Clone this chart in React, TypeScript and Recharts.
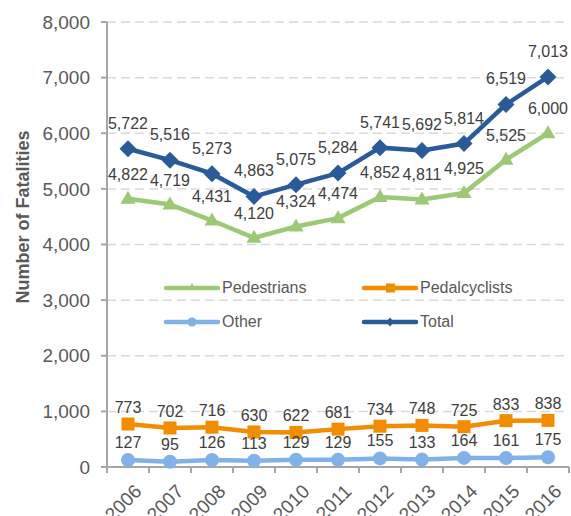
import { CartesianGrid, LabelList, Line, LineChart, XAxis, YAxis } from "recharts";

const years = ["2006", "2007", "2008", "2009", "2010", "2011", "2012", "2013", "2014", "2015", "2016"];
const pedestrians = [4822, 4719, 4431, 4120, 4324, 4474, 4852, 4811, 4925, 5525, 6000];
const pedalcyclists = [773, 702, 716, 630, 622, 681, 734, 748, 725, 833, 838];
const other = [127, 95, 126, 113, 129, 129, 155, 133, 164, 161, 175];
const total = [5722, 5516, 5273, 4863, 5075, 5284, 5741, 5692, 5814, 6519, 7013];
const yTicks = [0, 1000, 2000, 3000, 4000, 5000, 6000, 7000, 8000];

const data = years.map((year, i) => ({
  year,
  pedestrians: pedestrians[i],
  pedalcyclists: pedalcyclists[i],
  other: other[i],
  total: total[i],
}));

const FONT = "'Liberation Sans', Arial, sans-serif";
const GREEN = "#9BC975";
const ORANGE = "#F28C00";
const LIGHT = "#80B1E8";
const NAVY = "#2A5B99";
const AXIS = "#A6A6A6";
const TEXT = "#595959";

const fmt = (v: number) => v.toLocaleString("en-US");

function Diamond(props: any) {
  const { cx, cy } = props;
  if (cx == null) return null;
  const r = 8.5;
  return <polygon points={`${cx},${cy - r} ${cx + r},${cy} ${cx},${cy + r} ${cx - r},${cy}`} fill={NAVY} />;
}
function Square(props: any) {
  const { cx, cy } = props;
  if (cx == null) return null;
  return <rect x={cx - 6.5} y={cy - 6.5} width={13} height={13} fill={ORANGE} />;
}
function Triangle(props: any) {
  const { cx, cy } = props;
  if (cx == null) return null;
  return <polygon points={`${cx},${cy - 8} ${cx + 7.5},${cy + 5} ${cx - 7.5},${cy + 5}`} fill={GREEN} />;
}
function Dot(props: any) {
  const { cx, cy } = props;
  if (cx == null) return null;
  return <circle cx={cx} cy={cy} r={7} fill={LIGHT} />;
}

function YearTick(props: any) {
  const { x, y, payload } = props;
  const half = 21;
  return (
    <g>
      <line x1={x - half} x2={x - half} y1={y - 8} y2={y - 2} stroke={AXIS} strokeWidth={2} />
      {payload.index === years.length - 1 && (
        <line x1={x + half} x2={x + half} y1={y - 8} y2={y - 2} stroke={AXIS} strokeWidth={2} />
      )}
      <text
        transform={`translate(${x + 5},${y + 8}) rotate(-45)`}
        textAnchor="end"
        dominantBaseline="hanging"
        fontSize={19}
        fill={TEXT}
        fontFamily={FONT}
      >
        {payload.value}
      </text>
    </g>
  );
}

const legendItems = [
  { name: "Pedestrians", color: GREEN, shape: "tri" },
  { name: "Pedalcyclists", color: ORANGE, shape: "sq" },
  { name: "Other", color: LIGHT, shape: "circle" },
  { name: "Total", color: NAVY, shape: "dia" },
];

function LegendBox() {
  return (
    <div
      style={{
        position: "absolute",
        left: 163,
        top: 277,
        display: "grid",
        gridTemplateColumns: "198px 200px",
        rowGap: 12,
        fontFamily: FONT,
      }}
    >
      {legendItems.map((it) => (
        <div key={it.name} style={{ display: "flex", alignItems: "center", height: 22 }}>
          <svg width={58} height={14}>
            <line x1={3} x2={55} y1={7} y2={7} stroke={it.color} strokeWidth={4.5} strokeLinecap="round" />
            {it.shape === "tri" && <polygon points="29,2 33,9 25,9" fill={it.color} />}
            {it.shape === "sq" && <rect x={25} y={2.5} width={9} height={9} fill={it.color} />}
            {it.shape === "circle" && <circle cx={29} cy={7} r={4.5} fill={it.color} />}
            {it.shape === "dia" && <polygon points="29,2.5 33,7 29,11.5 25,7" fill={it.color} />}
          </svg>
          <span style={{ fontSize: 16, color: TEXT, marginLeft: 1 }}>{it.name}</span>
        </div>
      ))}
    </div>
  );
}

const labelStyle = { fontSize: 16, fill: "#404040", fontFamily: FONT };

export default function App() {
  return (
    <div style={{ position: "absolute", left: 0, top: 0, width: 571, height: 516, background: "#fff" }}>
      <LineChart width={571} height={516} data={data} margin={{ top: 22, right: 2, bottom: 0, left: 0 }}>
        <CartesianGrid vertical={false} stroke="#D9D9D9" strokeDasharray="9 5" strokeWidth={1.5} />
        <XAxis
          dataKey="year"
          stroke={AXIS}
          strokeWidth={2}
          tickLine={false}
          tick={<YearTick />}
          height={49}
          interval={0}
          padding={{ left: 21, right: 21 }}
        />
        <YAxis
          domain={[0, 8000]}
          ticks={yTicks}
          tickFormatter={fmt}
          width={107}
          stroke={AXIS}
          strokeWidth={2}
          tickSize={6}
          tickMargin={11}
          tick={{ fontSize: 19, fill: TEXT, fontFamily: FONT }}
          label={{
            value: "Number of Fatalities",
            angle: -90,
            position: "insideLeft",
            dx: 18,
            dy: 59,
            style: { fontSize: 18, fontWeight: "bold", fill: TEXT, fontFamily: FONT },
          }}
        />
        <Line dataKey="pedestrians" name="Pedestrians" stroke={GREEN} strokeWidth={4.5} dot={<Triangle />} isAnimationActive={false}>
          <LabelList dataKey="pedestrians" position="top" offset={19} formatter={fmt} style={labelStyle} />
        </Line>
        <Line dataKey="pedalcyclists" name="Pedalcyclists" stroke={ORANGE} strokeWidth={4.5} dot={<Square />} isAnimationActive={false}>
          <LabelList dataKey="pedalcyclists" position="top" offset={11} formatter={fmt} style={labelStyle} />
        </Line>
        <Line dataKey="other" name="Other" stroke={LIGHT} strokeWidth={4.5} dot={<Dot />} isAnimationActive={false}>
          <LabelList dataKey="other" position="top" offset={12} formatter={fmt} style={labelStyle} />
        </Line>
        <Line dataKey="total" name="Total" stroke={NAVY} strokeWidth={4.5} dot={<Diamond />} isAnimationActive={false}>
          <LabelList dataKey="total" position="top" offset={20} formatter={fmt} style={labelStyle} />
        </Line>
      </LineChart>
      <LegendBox />
    </div>
  );
}
